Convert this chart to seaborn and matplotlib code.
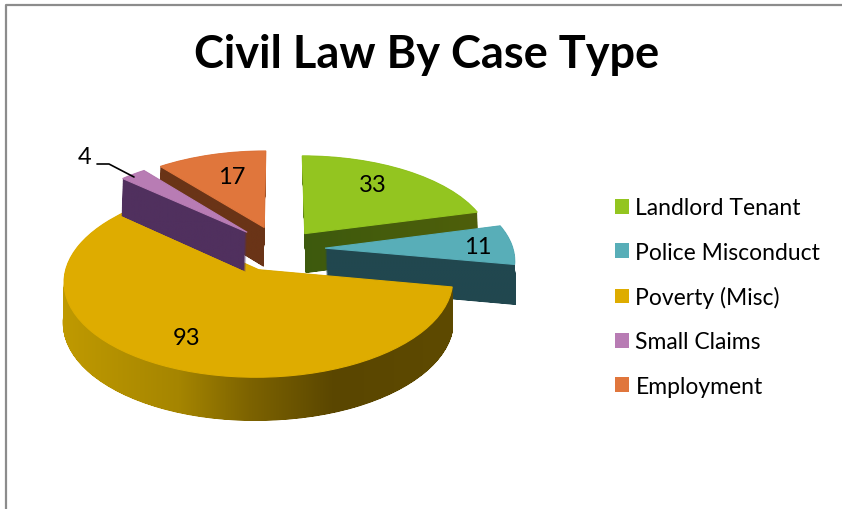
import numpy as np
import matplotlib
matplotlib.use('Agg')
import matplotlib.pyplot as plt
from matplotlib.colors import LinearSegmentedColormap
from matplotlib.patches import PathPatch, Patch
from matplotlib.path import Path
import seaborn as sns

case_types = ['Landlord Tenant', 'Police Misconduct', 'Poverty (Misc)', 'Small Claims', 'Employment']
case_counts = [33, 11, 93, 4, 17]
top_colors = ['#93c520', '#58aeb8', '#deac00', '#b87cb4', '#e0763c']
side_stops = [
    [(0, '#3d5a0e'), (1, '#4f5f0a')],
    [(0, '#21474f'), (1, '#21474f')],
    [(0, '#c09a00'), (0.3, '#a58500'), (0.48, '#7d6300'), (0.7, '#5a4600'), (1, '#5e4a00')],
    [(0, '#50305e'), (1, '#50305e')],
    [(0, '#6a3417'), (1, '#6a3417')],
]
explode = [0.22, 0.24, 0.25, 0.26, 0.26]
draw_order = [0, 1, 4, 2, 3]

W, H = 842, 510
CX, CY = 280, 250   # pie origin in pixels
RX, RY = 188, 90    # pixels per unit
TILT = 0.115        # far side of the pie shrinks
N_LAYERS = 90


def px(x, y):
    return x / W, 1 - y / H


def project(path, depth=0.0):
    """Takes a unit pie path to pixel coordinates with a simple perspective."""
    x, y = path.vertices.T
    den = 1 + TILT * y
    drop = depth * (40 - 3 * y)
    xs = RX * x / den
    # lower layers lean out a little so walls do not peek past the top face
    xs = xs + depth * np.clip(0.04 * xs, -1.2, 1.2)
    return Path(np.column_stack([CX + xs, CY - RY * y / den + drop]), path.codes)


sns.set_theme(style='white')
plt.rcParams['font.family'] = ['Lato', 'DejaVu Sans']
palette = sns.color_palette(top_colors)

fig = plt.figure(figsize=(W / 100, H / 100), dpi=100)
ax = fig.add_axes([0, 0, 1, 1])

wedges, _ = ax.pie(case_counts, explode=explode, colors=palette, startangle=90,
                   counterclock=False, wedgeprops={'linewidth': 0})
unit_paths = [w.get_path() for w in wedges]
for w in wedges:
    w.remove()

ax.axis('off')

for rank, i in enumerate(draw_order):
    # side wall: stacked outlines filled with a left to right gradient
    outline = Path.make_compound_path(*[project(unit_paths[i], d) for d in np.linspace(0, 1, N_LAYERS)])
    x0, y0 = outline.vertices.min(axis=0)
    x1, y1 = outline.vertices.max(axis=0)
    cmap = LinearSegmentedColormap.from_list('side', side_stops[i])
    im = ax.imshow(np.linspace(0, 1, 256)[None, :], extent=(x0, x1, y1, y0),
                   cmap=cmap, aspect='auto', zorder=2 * rank + 1)
    im.set_clip_path(PathPatch(outline, transform=ax.transData))
    ax.add_patch(PathPatch(project(unit_paths[i]), facecolor=palette[i], edgecolor=palette[i],
                           lw=0.8, zorder=2 * rank + 2))

ax.set_aspect('auto')
ax.set_xlim(0, W)
ax.set_ylim(H, 0)

# chart frame
ax.plot([6, 6, W], [H, 5.5, 5.5], color='#8c8c8c', lw=1.6, zorder=30, clip_on=False)

ax.text(*px(427, 55), 'Civil Law By Case Type', transform=ax.transAxes, fontsize=32.5,
        fontweight='bold', color='black', ha='center', va='center', zorder=30)

label_spots = [(373, 185), (478, 248), (187, 339), (85, 158), (232, 177)]
for count, spot in zip(case_counts, label_spots):
    ax.text(*px(*spot), str(count), transform=ax.transAxes, fontsize=17, color='black',
            ha='center', va='center', zorder=30)

# leader line for the small slice
ax.plot([97, 109, 134], [165, 165, 178], color='black', lw=1.2, zorder=30)

handles = [Patch(facecolor=c, edgecolor='none', label=n) for c, n in zip(palette, case_types)]
ax.legend(handles=handles, loc='center left', bbox_to_anchor=px(615, 298), frameon=False,
          fontsize=16.5, labelcolor='black', handlelength=0.62, handleheight=0.62, handletextpad=0.27,
          labelspacing=1.02, borderpad=0, borderaxespad=0)

fig.savefig('out.png', dpi=100)
